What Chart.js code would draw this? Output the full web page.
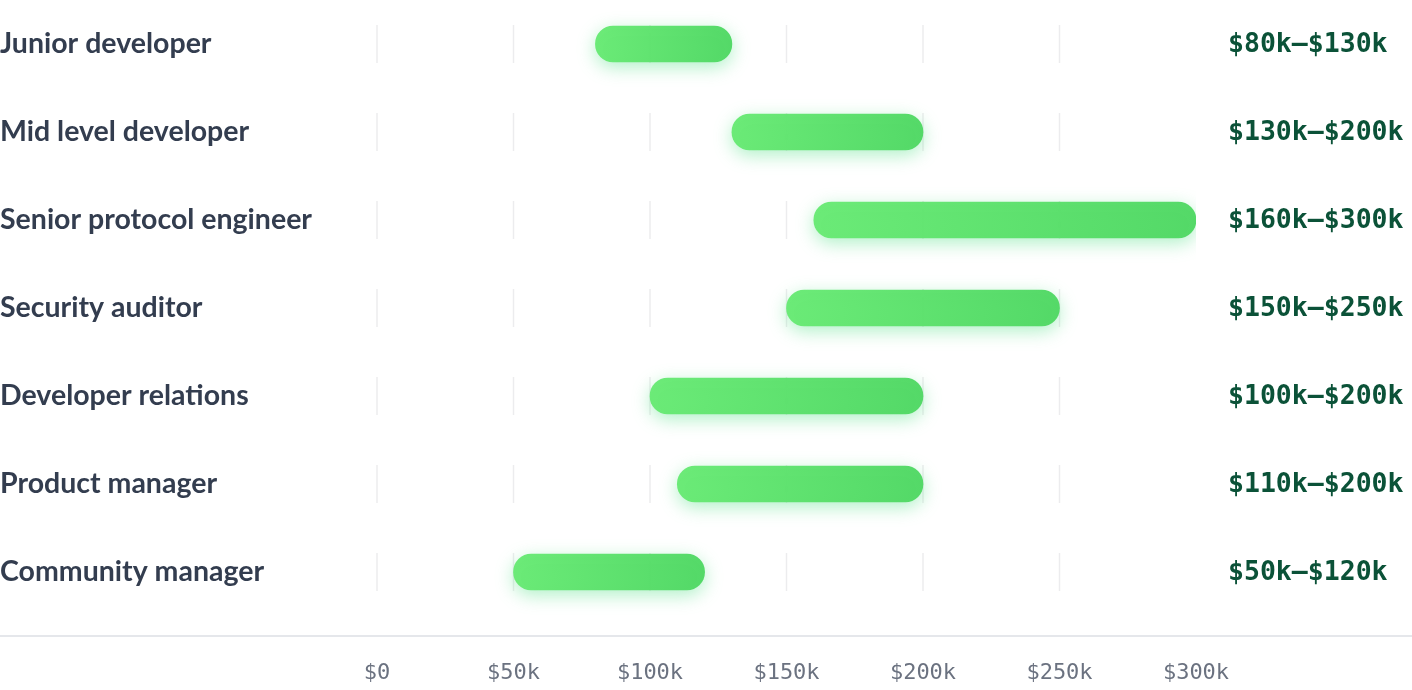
<!DOCTYPE html>
<html>
<head>
<meta charset="utf-8">
<script src="https://cdn.jsdelivr.net/npm/chart.js@4"></script>
<style>
  html, body { margin: 0; padding: 0; background: #fff; }
  #wrap { width: 1412px; height: 690px; }
</style>
</head>
<body>
<div id="wrap"><canvas id="salaryChart"></canvas></div>
<script>
// Salary ranges per role (in $k)
const roles = ['Junior developer', 'Mid level developer', 'Senior protocol engineer', 'Security auditor',
               'Developer relations', 'Product manager', 'Community manager'];
const salaryMin = [80, 130, 160, 150, 100, 110, 50];
const salaryMax = [130, 200, 300, 250, 200, 200, 120];
const rangeLabels = ['$80k–$130k', '$130k–$200k', '$160k–$300k', '$150k–$250k',
                     '$100k–$200k', '$110k–$200k', '$50k–$120k'];
const xTickLabels = ['$0', '$50k', '$100k', '$150k', '$200k', '$250k', '$300k'];

const MONO = '"DejaVu Sans Mono", "Liberation Mono", monospace';

// short grid segments per row, bottom rule and range labels on the right
const rowDecor = {
    id: 'rowDecor',
    beforeDatasetsDraw(chart) {
        const { ctx, scales: { x, y } } = chart;
        ctx.save();
        ctx.strokeStyle = '#ececee';
        ctx.lineWidth = 1.5;
        // no segment at the last tick
        x.ticks.slice(0, -1).forEach(t => {
            const px = x.getPixelForValue(t.value);
            roles.forEach((r, i) => {
                const py = y.getPixelForValue(i);
                ctx.beginPath();
                ctx.moveTo(px, py - 19);
                ctx.lineTo(px, py + 19);
                ctx.stroke();
            });
        });
        ctx.restore();
        // glow under the bars
        ctx.save();
        ctx.shadowColor = 'rgba(74, 222, 128, 0.45)';
        ctx.shadowBlur = 18;
        ctx.shadowOffsetY = 5;
    },
    afterDatasetsDraw(chart) {
        const { ctx, scales: { y } } = chart;
        ctx.restore();
        ctx.save();
        // bottom rule
        ctx.strokeStyle = '#e5e7eb';
        ctx.lineWidth = 2;
        ctx.beginPath();
        ctx.moveTo(0, chart.chartArea.bottom + 20);
        ctx.lineTo(chart.width, chart.chartArea.bottom + 20);
        ctx.stroke();
        // range labels
        ctx.fillStyle = '#0b5238';
        ctx.font = 'bold 26.5px ' + MONO;
        ctx.textAlign = 'left';
        ctx.textBaseline = 'middle';
        rangeLabels.forEach((lbl, i) => {
            ctx.fillText(lbl, chart.chartArea.right + 32, y.getPixelForValue(i) + 1);
        });
        ctx.restore();
    }
};

const ctx = document.getElementById('salaryChart').getContext('2d');
const salaryChart = new Chart(ctx, {
    type: 'bar',
    data: {
        labels: roles,
        datasets: [{
            data: roles.map((r, i) => [salaryMin[i], salaryMax[i]]),
            backgroundColor: (c) => {
                const chart = c.chart;
                if (!chart.chartArea || !c.raw) return '#5ade6b';
                const x = chart.scales.x;
                const x0 = x.getPixelForValue(c.raw[0]);
                const x1 = x.getPixelForValue(c.raw[1]);
                const g = chart.ctx.createLinearGradient(x0, 0, x1, 0);
                g.addColorStop(0, 'rgba(104, 234, 116, 0.97)');
                g.addColorStop(1, 'rgba(80, 216, 100, 0.97)');
                return g;
            },
            borderSkipped: false,
            borderRadius: 18,
            barThickness: 36
        }]
    },
    options: {
        indexAxis: 'y',
        responsive: true,
        maintainAspectRatio: false,
        animation: false,
        layout: { padding: { top: 0, right: 216, bottom: 0, left: 0 } },
        plugins: {
            legend: { display: false },
            tooltip: { enabled: false }
        },
        scales: {
            x: {
                min: 0,
                max: 300,
                ticks: {
                    stepSize: 50,
                    padding: 44,
                    color: '#6b7280',
                    font: { family: MONO, size: 22 },
                    callback: (v, i) => xTickLabels[i]
                },
                grid: { display: false, drawTicks: false },
                border: { display: false },
                afterFit: (s) => { s.height = 74; }
            },
            y: {
                grid: { display: false },
                border: { display: false },
                ticks: {
                    crossAlign: 'far',
                    padding: 0,
                    color: '#333d4f',
                    font: { family: 'Lato', size: 28.5, weight: 'bold' }
                },
                afterFit: (s) => { s.width = 377; s.paddingTop = 0; s.paddingBottom = 0; }
            }
        }
    },
    plugins: [rowDecor]
});
</script>
</body>
</html>
